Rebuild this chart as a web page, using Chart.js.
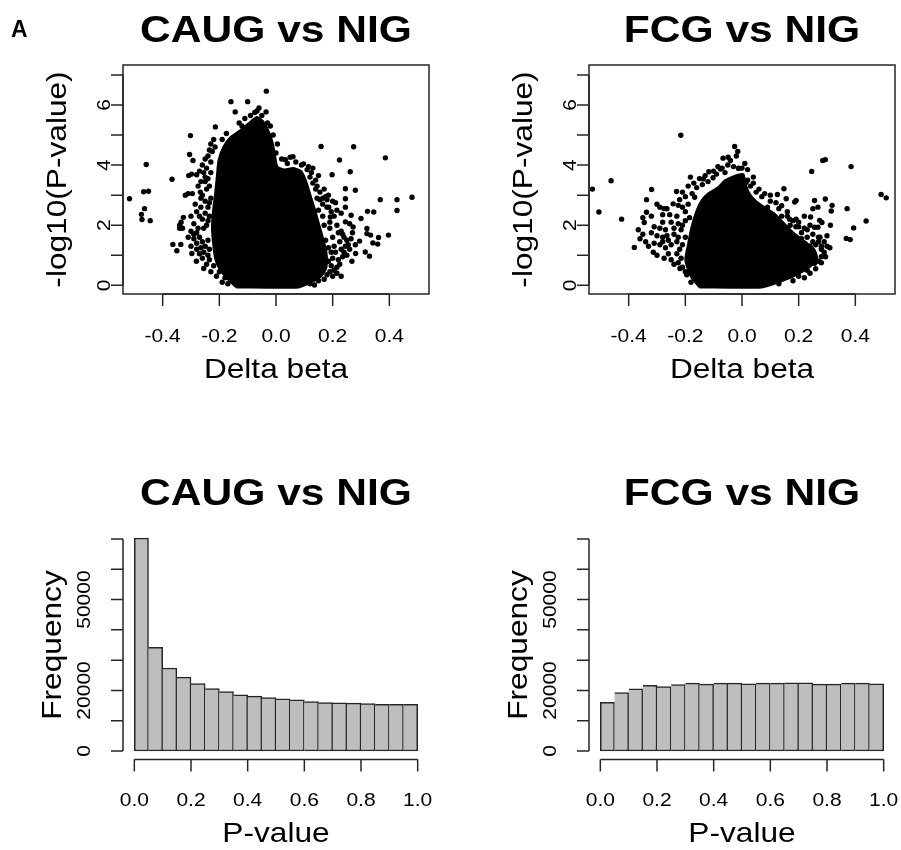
<!DOCTYPE html>
<html>
<head>
<meta charset="utf-8">
<script src="https://cdn.jsdelivr.net/npm/chart.js@4.4.1/dist/chart.umd.min.js"></script>
<style>
  body { margin: 0; background: #fff; }
  #wrap { position: relative; width: 901px; height: 850px; }
  canvas { position: absolute; }
</style>
</head>
<body>
<div id="wrap">
  <canvas id="volcanoCaug" width="435" height="385" style="left:0;top:0"></canvas>
  <canvas id="volcanoFcg" width="435" height="385" style="left:466px;top:0"></canvas>
  <canvas id="histCaug" width="435" height="385" style="left:0;top:465px"></canvas>
  <canvas id="histFcg" width="435" height="385" style="left:466px;top:465px"></canvas>
</div>
<script>
// ---------- tick values and labels ----------
const deltaTicks = [-0.4, -0.2, 0, 0.2, 0.4];
const deltaLabels = ["-0.4", "-0.2", "0.0", "0.2", "0.4"];
const logpTicks = [0, 1, 2, 3, 4, 5, 6, 7];
const logpLabels = ["0", "", "2", "", "4", "", "6", ""];
const pTicks = [0, 0.2, 0.4, 0.6, 0.8, 1.0];
const pLabels = ["0.0", "0.2", "0.4", "0.6", "0.8", "1.0"];
const freqTicks = [0, 10000, 20000, 30000, 40000, 50000, 60000, 70000];
const freqLabels = ["0", "", "20000", "", "", "50000", "", ""];

// ---------- histogram bins (P-value, width 0.05) ----------
const pBinMids = [0.025, 0.075, 0.125, 0.175, 0.225, 0.275, 0.325, 0.375, 0.425, 0.475,
                  0.525, 0.575, 0.625, 0.675, 0.725, 0.775, 0.825, 0.875, 0.925, 0.975];
const caugCounts = [70300, 34200, 27400, 24400, 22300, 20650, 19650, 18550, 18100, 17650,
                    17250, 16900, 16350, 16000, 15900, 15800, 15700, 15450, 15450, 15450];
const fcgCounts = [16100, 19300, 20550, 21650, 21300, 21950, 22400, 22100, 22400, 22400,
                   22200, 22400, 22400, 22500, 22500, 22100, 22100, 22400, 22400, 22200];

// ---------- volcano plots: dense core outline + sparse points ----------
const caugCore = [
  [-0.14, -0.07], [-0.17, 0.2], [-0.2, 0.55], [-0.215, 0.9], [-0.222, 1.4], [-0.226, 1.95],
  [-0.222, 2.5], [-0.215, 3.05], [-0.209, 3.6], [-0.203, 4.15], [-0.186, 4.6], [-0.162, 4.92],
  [-0.128, 5.15], [-0.098, 5.38], [-0.068, 5.6], [-0.045, 5.45], [-0.025, 5.1], [-0.012, 4.75],
  [-0.004, 4.35], [0.005, 3.95], [0.03, 3.85], [0.06, 3.9], [0.088, 3.8], [0.105, 3.5],
  [0.12, 3.05], [0.135, 2.6], [0.15, 2.1], [0.165, 1.6], [0.178, 1.1], [0.178, 0.6],
  [0.16, 0.3], [0.12, 0.08], [0.08, -0.07], [-0.14, -0.07]
];
const caugPoints = [
  [-0.517, 2.88], [-0.458, 4.02], [-0.467, 3.11], [-0.45, 3.13], [-0.464, 2.55], [-0.475, 2.36],
  [-0.473, 2.19], [-0.444, 2.15], [-0.367, 3.53], [-0.302, 4.98], [-0.305, 4.35], [-0.293, 4.15],
  [-0.308, 3.65], [-0.298, 3.7], [-0.28, 3.68], [-0.32, 3.0], [-0.31, 3.05], [-0.295, 3.05],
  [-0.327, 2.26], [-0.335, 2.1], [-0.34, 2.0], [-0.34, 1.9], [-0.33, 1.9], [-0.364, 1.36],
  [-0.336, 1.36], [-0.35, 1.15], [-0.297, 1.06], [-0.3, 1.8], [-0.29, 1.7], [-0.28, 1.75],
  [-0.281, 0.8], [-0.255, 0.56], [-0.267, 3.1], [-0.265, 2.9], [-0.25, 3.6], [-0.25, 3.45],
  [-0.214, 5.27], [-0.159, 6.11], [-0.1, 6.11], [-0.034, 6.46], [-0.144, 5.77], [-0.067, 5.8],
  [-0.035, 5.77], [-0.24, 4.3], [-0.23, 4.1], [-0.225, 4.45], [-0.215, 4.6], [-0.245, 3.9],
  [-0.235, 3.3], [-0.24, 2.6], [-0.25, 2.4], [-0.26, 2.2], [-0.245, 2.0], [-0.27, 1.6],
  [-0.26, 1.45], [-0.25, 1.3], [-0.255, 1.1], [-0.24, 1.0], [-0.235, 0.85], [-0.22, 0.65],
  [-0.2, 0.45], [-0.18, 0.25], [-0.19, 4.85], [-0.175, 5.05], [-0.13, 5.4], [-0.11, 5.55],
  [-0.09, 5.65], [-0.12, 5.3], [-0.06, 5.9], [-0.05, 5.65], [-0.03, 5.4],
  [-0.075, 5.75], [0.159, 4.62], [0.274, 4.61], [0.386, 4.24], [0.224, 4.17], [0.262, 3.78],
  [0.198, 3.68], [0.15, 3.65], [0.033, 4.18], [0.05, 4.26], [0.06, 4.28], [0.097, 4.04],
  [0.115, 3.95], [0.245, 3.21], [0.28, 3.16], [0.245, 2.88], [0.245, 2.6], [0.368, 2.85],
  [0.427, 2.85], [0.48, 2.93], [0.427, 2.49], [0.323, 2.46], [0.345, 2.44], [0.265, 2.33],
  [0.3, 2.22], [0.186, 2.6], [0.192, 2.27], [0.245, 2.11], [0.272, 1.94], [0.321, 1.89],
  [0.321, 1.72], [0.334, 1.67], [0.397, 1.67], [0.362, 1.59], [0.295, 1.47], [0.342, 1.41],
  [0.359, 1.37], [0.281, 1.06], [0.315, 1.11], [0.33, 0.97], [0.268, 0.8], [0.136, 0.01],
  [0.145, 2.9], [0.155, 2.85], [0.165, 2.9], [0.175, 2.95], [0.18, 2.85], [0.23, 1.8],
  [0.22, 1.75], [0.235, 1.7], [0.25, 1.5], [0.245, 1.3], [0.25, 1.0], [0.13, 3.4],
  [0.14, 3.2], [0.12, 3.6], [0.125, 3.75], [0.15, 2.5], [0.165, 2.3], [0.17, 2.0],
  [0.19, 1.9], [0.2, 1.6], [0.205, 1.3], [0.21, 1.1], [0.2, 0.9], [0.22, 0.85],
  [0.215, 0.6], [0.19, 0.45], [0.2, 0.3], [0.17, 0.2], [0.23, 1.2], [0.225, 1.45],
  [0.19, 2.1], [0.175, 1.5], [0.07, 4.1], [0.02, 4.2], [0.0, 4.4], [0.04, 4.05],
  [-0.01, 5.0], [-0.02, 5.3], [0.005, 4.7],
  // dense band left of the core
  [-0.23, 4.7], [-0.22, 4.85], [-0.235, 4.5], [-0.25, 4.2], [-0.26, 4.0], [-0.27, 3.8],
  [-0.255, 3.75], [-0.24, 3.55], [-0.23, 3.75], [-0.245, 3.2], [-0.26, 3.0], [-0.23, 2.9],
  [-0.235, 2.75], [-0.25, 2.8], [-0.265, 2.6], [-0.28, 2.45], [-0.27, 2.3], [-0.235, 2.3],
  [-0.24, 2.15], [-0.255, 1.9], [-0.275, 1.9], [-0.29, 1.55], [-0.28, 1.4], [-0.265, 1.25],
  [-0.24, 1.5], [-0.235, 1.2], [-0.27, 1.05], [-0.26, 0.9], [-0.245, 0.7], [-0.23, 0.45],
  [-0.21, 0.3], [-0.19, 0.1], [-0.17, 0.05], [-0.28, 1.2], [-0.3, 1.3], [-0.31, 1.6],
  [-0.29, 2.05], [-0.3, 2.3], [-0.285, 2.7], [-0.275, 3.3], [-0.265, 3.45],
  // dense band right of the core
  [0.185, 0.8], [0.195, 0.65], [0.205, 0.5], [0.215, 0.4], [0.225, 0.7], [0.235, 0.95],
  [0.24, 1.1], [0.26, 1.2], [0.255, 1.35], [0.265, 1.55], [0.24, 1.6], [0.215, 2.0],
  [0.205, 2.3], [0.215, 2.5], [0.195, 2.45], [0.18, 2.6], [0.165, 2.7], [0.155, 3.1],
  [0.145, 3.3], [0.17, 3.2], [0.185, 3.0], [0.2, 2.8], [0.13, 3.9], [0.14, 3.5],
  [0.11, 3.85], [0.09, 4.0], [0.185, 1.25], [0.195, 1.1], [0.18, 0.35], [0.15, 0.15],
  [0.12, 0.05], [0.23, 0.3], [0.28, 1.35], [0.27, 1.75], [0.26, 2.05], [0.23, 2.4], [0.21, 2.75]
];

const fcgCore = [
  [-0.15, -0.07], [-0.18, 0.28], [-0.2, 0.84], [-0.19, 1.39], [-0.178, 1.94], [-0.16, 2.49],
  [-0.143, 2.82], [-0.12, 3.05], [-0.085, 3.26], [-0.06, 3.49], [-0.037, 3.6], [-0.014, 3.68],
  [0.005, 3.7], [0.015, 3.3], [0.03, 3.0], [0.05, 2.8], [0.08, 2.6], [0.115, 2.38],
  [0.15, 2.05], [0.185, 1.72], [0.225, 1.44], [0.255, 1.2], [0.265, 0.9], [0.245, 0.65],
  [0.2, 0.38], [0.15, 0.17], [0.07, -0.07], [-0.15, -0.07]
];
const fcgPoints = [
  [-0.528, 3.2], [-0.462, 3.48], [-0.505, 2.44], [-0.425, 2.2], [-0.319, 3.19], [-0.337, 2.85],
  [-0.337, 2.43], [-0.38, 1.26], [-0.366, 1.85], [-0.345, 2.09], [-0.231, 3.12], [-0.243, 2.71],
  [-0.225, 2.66], [-0.29, 2.6], [-0.275, 2.55], [-0.265, 2.55], [-0.182, 3.6], [-0.216, 4.99],
  [-0.026, 4.62], [-0.067, 4.23], [-0.049, 4.26], [-0.041, 4.15], [-0.012, 3.89], [-0.085, 3.95],
  [-0.076, 3.87], [-0.117, 3.78], [-0.137, 3.54], [-0.102, 3.58], [-0.176, 3.05], [-0.167, 2.93],
  [-0.31, 1.95], [-0.29, 1.9], [-0.27, 1.85], [-0.32, 1.75], [-0.35, 1.7], [-0.3, 1.65],
  [-0.28, 1.6], [-0.313, 1.1], [-0.3, 1.0], [-0.275, 0.9], [-0.25, 2.1], [-0.225, 2.05],
  [-0.21, 2.0], [-0.219, 0.56], [-0.155, 0.18], [-0.137, 0.14], [-0.36, 1.55], [-0.34, 1.45],
  [-0.33, 1.3], [-0.31, 1.4], [-0.29, 1.35], [-0.27, 1.25], [-0.26, 1.5], [-0.24, 1.7],
  [-0.23, 1.45], [-0.22, 1.2], [-0.25, 0.85], [-0.24, 0.7], [-0.2, 0.45], [-0.26, 1.05],
  [-0.23, 2.3], [-0.2, 2.45], [-0.19, 2.7], [-0.2, 2.95], [-0.16, 3.25], [-0.14, 3.35],
  [-0.12, 3.45], [-0.09, 3.7], [-0.06, 3.75], [-0.03, 3.95], [0.0, 3.9], [-0.02, 4.3],
  [-0.35, 2.25], [-0.32, 2.3], [-0.3, 2.7], [-0.28, 2.35], [0.285, 4.15], [0.294, 4.18],
  [0.246, 3.79], [0.385, 3.95], [0.491, 3.02], [0.509, 2.91], [0.371, 2.55], [0.438, 2.14],
  [0.394, 1.91], [0.368, 1.56], [0.382, 1.52], [0.148, 3.21], [0.125, 3.02], [0.156, 2.88],
  [0.186, 2.77], [0.191, 2.82], [0.256, 2.82], [0.294, 2.87], [0.25, 2.55], [0.268, 2.6],
  [0.318, 2.66], [0.315, 2.47], [0.242, 2.27], [0.274, 2.16], [0.282, 2.09], [0.312, 2.0],
  [0.256, 1.93], [0.268, 1.93], [0.191, 2.2], [0.168, 2.2], [0.275, 1.6], [0.27, 1.45],
  [0.3, 1.3], [0.28, 1.2], [0.256, 0.73], [0.238, 0.71], [0.02, 3.5], [0.03, 3.3],
  [0.05, 3.1], [0.07, 2.95], [0.1, 2.8], [0.09, 2.6], [0.13, 2.55], [0.14, 2.3],
  [0.17, 2.0], [0.2, 1.95], [0.21, 1.75], [0.23, 1.6], [0.25, 1.45], [0.29, 1.1],
  [0.28, 0.95], [0.27, 0.8], [0.23, 0.5], [0.2, 0.3], [0.22, 1.9], [0.16, 2.45],
  [0.04, 3.6], [0.01, 4.05], [-0.015, 4.45], [-0.012, 3.9], [0.015, 3.43],
  // dense band left of the core
  [-0.19, 3.3], [-0.17, 3.4], [-0.15, 3.55], [-0.13, 3.65], [-0.1, 3.8], [-0.07, 3.9],
  [-0.05, 4.0], [-0.21, 3.1], [-0.22, 2.85], [-0.21, 2.6], [-0.185, 2.25], [-0.2, 2.15],
  [-0.215, 1.85], [-0.225, 1.6], [-0.2, 1.6], [-0.21, 1.35], [-0.23, 1.05], [-0.215, 0.9],
  [-0.225, 0.75], [-0.21, 0.6], [-0.195, 0.35], [-0.18, 0.1], [-0.24, 1.9], [-0.25, 1.35],
  [-0.255, 2.35], [-0.28, 2.1], [-0.265, 1.65], [-0.28, 1.45],
  // dense band right of the core
  [0.02, 3.85], [0.04, 3.4], [0.06, 3.2], [0.08, 3.05], [0.1, 3.0], [0.12, 2.75],
  [0.14, 2.65], [0.16, 2.3], [0.18, 2.15], [0.19, 1.95], [0.21, 1.55], [0.24, 1.3],
  [0.26, 1.35], [0.28, 1.3], [0.295, 0.95], [0.28, 0.75], [0.26, 0.55], [0.24, 0.4],
  [0.22, 0.25], [0.18, 0.15], [0.13, 0.05], [0.2, 2.1], [0.23, 1.85], [0.24, 2.0],
  [0.25, 1.7], [0.27, 1.6], [0.3, 1.65], [0.29, 1.45], [0.31, 1.25], [0.22, 2.3]
];

const FONT = '"Liberation Sans", Arial, Helvetica, sans-serif';

// text drawn a little wider than the font's own proportions
function drawText(ctx, text, x, y, size, opts) {
  opts = opts || {};
  ctx.save();
  ctx.translate(x, y);
  if (opts.rotate) ctx.rotate(opts.rotate);
  ctx.scale(opts.stretch || 1.13, 1);
  ctx.font = (opts.bold ? "bold " : "") + size + "px " + FONT;
  ctx.textAlign = opts.align || "center";
  ctx.textBaseline = "alphabetic";
  ctx.fillStyle = "#000";
  ctx.fillText(text, 0, 0);
  ctx.restore();
}

// R-style axes, frame and labels
const rFrame = {
  id: "rFrame",
  afterDraw(chart, args, o) {
    const ctx = chart.ctx;
    const a = chart.chartArea;
    const xs = chart.scales.x;
    const ys = chart.scales.y;
    const cx = (a.left + a.right) / 2;
    const cy = (a.top + a.bottom) / 2;

    ctx.save();
    ctx.strokeStyle = "#262626";
    ctx.lineWidth = 1.5;

    if (o.box) {
      ctx.strokeRect(a.left, a.top, a.right - a.left, a.bottom - a.top);
    }

    // x axis
    const xPix = o.xTicks.map(v => xs.getPixelForValue(v));
    ctx.beginPath();
    ctx.moveTo(xPix[0], a.bottom);
    ctx.lineTo(xPix[xPix.length - 1], a.bottom);
    xPix.forEach(p => {
      ctx.moveTo(p, a.bottom);
      ctx.lineTo(p, a.bottom + 12);
    });

    // y axis
    const yPix = o.yTicks.map(v => ys.getPixelForValue(v));
    ctx.moveTo(a.left, yPix[0]);
    ctx.lineTo(a.left, yPix[yPix.length - 1]);
    yPix.forEach(p => {
      ctx.moveTo(a.left, p);
      ctx.lineTo(a.left - 12, p);
    });
    ctx.stroke();
    ctx.restore();

    xPix.forEach((p, i) => {
      drawText(ctx, o.xLabels[i], p, a.bottom + o.xLabelGap, 18.6);
    });
    yPix.forEach((p, i) => {
      if (o.yLabels[i]) {
        drawText(ctx, o.yLabels[i], a.left - o.yLabelGap, p, 18.6, { rotate: -Math.PI / 2 });
      }
    });

    drawText(ctx, o.title, cx, o.titleY, 37, { bold: true, stretch: 1.15 });
    drawText(ctx, o.xTitle, cx, o.xTitleY, 28);
    drawText(ctx, o.yTitle, o.yTitleX, cy, 28, { rotate: -Math.PI / 2 });

    if (o.tag) {
      drawText(ctx, o.tag, 11, 36.7, 23, { bold: true, align: "left", stretch: 1.0 });
    }
  }
};

const panelPadding = { left: 123, right: 6, top: 65, bottom: 91 };

function volcano(id, core, points, title, tag) {
  new Chart(document.getElementById(id), {
    type: "scatter",
    data: {
      datasets: [
        {
          data: core.map(p => ({ x: p[0], y: p[1] })),
          showLine: true,
          fill: "shape",
          tension: 0.2,
          backgroundColor: "#000",
          borderColor: "#000",
          borderWidth: 2,
          pointRadius: 0
        },
        {
          data: points.map(p => ({ x: p[0], y: p[1] })),
          backgroundColor: "#000",
          borderWidth: 0,
          pointRadius: 2.7
        }
      ]
    },
    options: {
      responsive: false,
      animation: false,
      layout: { padding: panelPadding },
      scales: {
        x: { type: "linear", display: false, min: -0.54, max: 0.54 },
        y: { type: "linear", display: false, min: -0.29, max: 7.33 }
      },
      plugins: {
        legend: { display: false },
        tooltip: { enabled: false },
        rFrame: {
          box: true,
          xTicks: deltaTicks, xLabels: deltaLabels, xLabelGap: 47.5,
          yTicks: logpTicks, yLabels: logpLabels, yLabelGap: 13,
          title: title, titleY: 41.7,
          xTitle: "Delta beta", xTitleY: 378.3,
          yTitle: "-log10(P-value)", yTitleX: 65.8,
          tag: tag
        }
      }
    },
    plugins: [rFrame]
  });
}

function histogram(id, counts, title) {
  new Chart(document.getElementById(id), {
    type: "bar",
    data: {
      datasets: [{
        data: pBinMids.map((x, i) => ({ x: x, y: counts[i] })),
        backgroundColor: "#bebebe",
        borderColor: "#262626",
        borderWidth: 1.5,
        borderSkipped: ctx => (ctx.dataIndex === 0 ? false : "left"),
        barPercentage: 1,
        categoryPercentage: 1,
        base: 0
      }]
    },
    options: {
      responsive: false,
      animation: false,
      layout: { padding: { left: 123, right: 6, top: 65.5, bottom: 90.5 } },
      scales: {
        x: { type: "linear", display: false, offset: false, min: -0.04, max: 1.04 },
        y: { type: "linear", display: false, min: -2800, max: 72800 }
      },
      plugins: {
        legend: { display: false },
        tooltip: { enabled: false },
        rFrame: {
          box: false,
          xTicks: pTicks, xLabels: pLabels, xLabelGap: 46.5,
          yTicks: freqTicks, yLabels: freqLabels, yLabelGap: 33,
          title: title, titleY: 40,
          xTitle: "P-value", xTitleY: 376.7,
          yTitle: "Frequency", yTitleX: 60.8
        }
      }
    },
    plugins: [rFrame]
  });
}

volcano("volcanoCaug", caugCore, caugPoints, "CAUG vs NIG", "A");
volcano("volcanoFcg", fcgCore, fcgPoints, "FCG vs NIG");
histogram("histCaug", caugCounts, "CAUG vs NIG");
histogram("histFcg", fcgCounts, "FCG vs NIG");
</script>
</body>
</html>
